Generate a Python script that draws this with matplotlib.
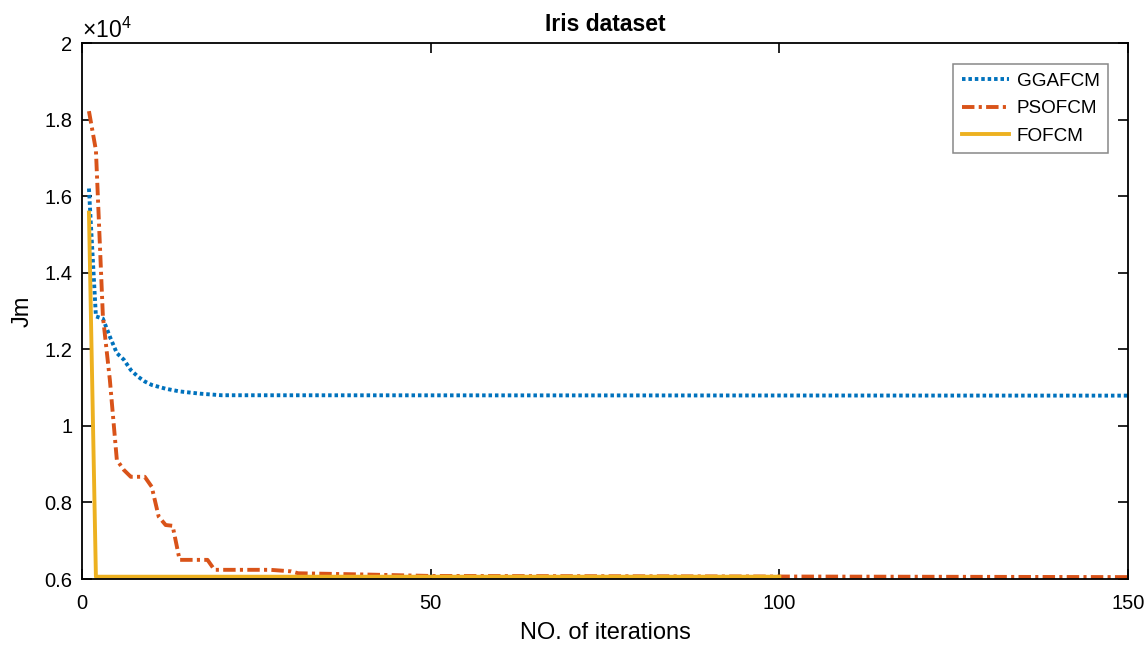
import matplotlib.pyplot as plt

plt.rcParams['font.family'] = ['Liberation Sans', 'DejaVu Sans']
plt.rcParams['mathtext.fontset'] = 'custom'
plt.rcParams['mathtext.rm'] = 'Liberation Sans'
plt.rcParams['mathtext.it'] = 'Liberation Sans:italic'

# iteration numbers and Jm values
ggafcm_iter = [1, 2, 3, 4, 5, 6, 7, 8, 9, 10, 12, 14, 17, 20, 150]
ggafcm_jm = [16200, 12860, 12800, 12330, 11900, 11730, 11460, 11290, 11160,
             11070, 10970, 10900, 10840, 10800, 10790]

psofcm_iter = [1, 2, 3, 4, 5, 6, 7, 8, 9, 10, 11, 12, 13, 14, 18, 19, 27, 30,
               31, 40, 50, 150]
psofcm_jm = [18220, 17200, 12860, 11200, 9110, 8850, 8670, 8670, 8670, 8410,
             7630, 7410, 7390, 6500, 6500, 6240, 6240, 6200, 6150, 6120,
             6080, 6050]

fofcm_iter = [1, 2, 100]
fofcm_jm = [15570, 6060, 6060]

fig = plt.figure(figsize=(11.48, 6.46), dpi=100)
ax = fig.add_axes([0.0714, 0.1037, 0.9112, 0.8297])

lw = 2.8
ax.plot(ggafcm_iter, [v / 1e4 for v in ggafcm_jm], color='#0072BD', lw=lw,
        dashes=(0.9, 0.75), label='GGAFCM')
ax.plot(psofcm_iter, [v / 1e4 for v in psofcm_jm], color='#D95319', lw=lw,
        dashes=(3.2, 1.1, 0.8, 1.1), label='PSOFCM')
ax.plot(fofcm_iter, [v / 1e4 for v in fofcm_jm], '-', color='#EDB120', lw=lw,
        label='FOFCM')

ax.set_xlim(0, 150)
ax.set_ylim(0.6, 2)
ax.set_xticks([0, 50, 100, 150])
ax.set_yticks([0.6, 0.8, 1, 1.2, 1.4, 1.6, 1.8, 2])
ax.set_yticklabels(['0.6', '0.8', '1', '1.2', '1.4', '1.6', '1.8', '2'])
ax.tick_params(direction='in', top=True, right=True, labelsize=14.5, length=7, width=1.2)
ax.tick_params(axis='x', pad=11)
ax.tick_params(axis='y', pad=7)
for s in ax.spines.values():
    s.set_linewidth(1.3)

ax.annotate(r'$\times\mathregular{10^4}$', xy=(0, 1), xycoords='axes fraction',
            xytext=(0, 4), textcoords='offset points', fontsize=16.5,
            ha='left', va='baseline')
ax.set_title('Iris dataset', fontsize=16.5, fontweight='bold', pad=9)
ax.set_xlabel('NO. of iterations', fontsize=17, labelpad=6)
ax.set_ylabel('Jm', fontsize=17, labelpad=8)

leg = ax.legend(loc='upper right', bbox_to_anchor=(0.981, 0.961), fontsize=13.6,
                fancybox=False, framealpha=1, edgecolor='#888888', borderaxespad=0,
                handlelength=2.5, handletextpad=0.4, borderpad=0.45, labelspacing=0.55)
leg.get_frame().set_linewidth(1.1)

fig.savefig('out.png', dpi=100)
